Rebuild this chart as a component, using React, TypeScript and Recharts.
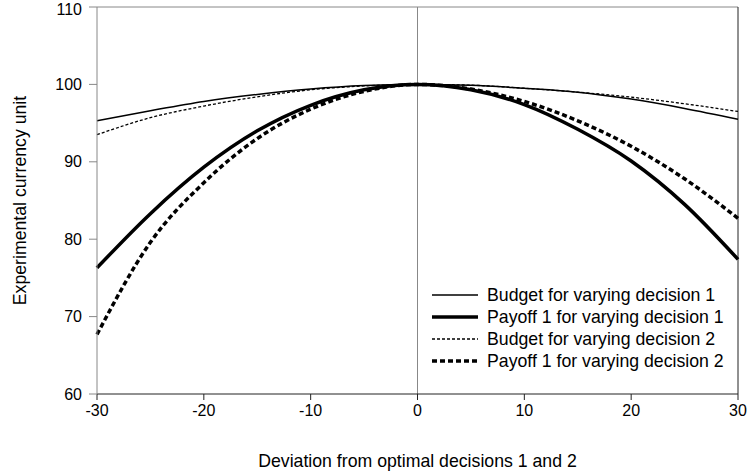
import React from 'react';
import { LineChart, Line, XAxis, YAxis, ReferenceLine, Legend } from 'recharts';

// deviation from the optimum (x axis)
const deviations = [-30, -25, -20, -15, -10, -5, 0, 5, 10, 15, 20, 25, 30];

const budgetDecision1 = [95.3, 96.6, 97.8, 98.7, 99.4, 99.85, 100, 99.9, 99.5, 99.0, 98.1, 96.9, 95.5];
const payoffDecision1 = [76.3, 83.3, 89.3, 94.0, 97.3, 99.3, 100, 99.3, 97.4, 94.2, 90.1, 84.5, 77.4];
const budgetDecision2 = [93.5, 95.7, 97.2, 98.4, 99.3, 99.8, 100, 99.9, 99.5, 99.0, 98.35, 97.5, 96.5];
const payoffDecision2 = [67.7, 79.6, 87.3, 93.0, 96.8, 99.1, 100, 99.4, 97.8, 95.3, 92.0, 87.8, 82.7];

const xTicks = [-30, -20, -10, 0, 10, 20, 30];
const yTicks = [60, 70, 80, 90, 100, 110];

const data = deviations.map((d, i) => ({
  d,
  b1: budgetDecision1[i],
  p1: payoffDecision1[i],
  b2: budgetDecision2[i],
  p2: payoffDecision2[i],
}));

const series = [
  { key: 'b1', name: 'Budget for varying decision 1', width: 1.5, dash: undefined },
  { key: 'p1', name: 'Payoff 1 for varying decision 1', width: 3.5, dash: undefined },
  { key: 'b2', name: 'Budget for varying decision 2', width: 1.3, dash: '3 2' },
  { key: 'p2', name: 'Payoff 1 for varying decision 2', width: 3.5, dash: '5 3' },
];

const font = '"Liberation Sans", Arial, sans-serif';

const renderLegend = () => (
  <div style={{ fontFamily: font, fontSize: 17.7, color: '#000' }}>
    {series.map((s) => (
      <div key={s.key} style={{ display: 'flex', alignItems: 'center', height: 22 }}>
        <svg width={46} height={10} style={{ marginRight: 9 }}>
          <line x1={0} y1={5} x2={46} y2={5} stroke="#000" strokeWidth={s.width} strokeDasharray={s.dash} />
        </svg>
        <span style={{ whiteSpace: 'nowrap' }}>{s.name}</span>
      </div>
    ))}
  </div>
);

const renderYLabel = (props: any) => {
  const vb = props.viewBox || { y: 7, height: 387 };
  const cy = vb.y + vb.height / 2;
  return (
    <text x={20} y={cy} transform={`rotate(-90 20 ${cy})`} textAnchor="middle" dominantBaseline="central"
      fontFamily={font} fontSize={17.7} fill="#000">
      Experimental currency unit
    </text>
  );
};

export default function App() {
  return (
    <div style={{ position: 'absolute', left: 0, top: 0, background: '#fff' }}>
      <LineChart width={749} height={474} data={data} margin={{ top: 7, right: 11, bottom: 0, left: 0 }}>
        <XAxis
          dataKey="d"
          type="number"
          domain={[-30, 30]}
          ticks={xTicks}
          height={80}
          stroke="#222"
          tickSize={6}
          tickMargin={5}
          tick={{ fill: '#000', fontSize: 16, fontFamily: font }}
          label={{ value: 'Deviation from optimal decisions 1 and 2', position: 'insideBottom', offset: 7, fill: '#000', fontSize: 17.7, fontFamily: font }}
        />
        <YAxis
          type="number"
          domain={[60, 110]}
          ticks={yTicks}
          width={97}
          stroke="#888"
          tickSize={8}
          tickMargin={7}
          tick={{ fill: '#000', fontSize: 16, fontFamily: font }}
          label={renderYLabel}
        />
        <ReferenceLine y={110} stroke="#888" strokeWidth={1} />
        <ReferenceLine x={30} stroke="#222" strokeWidth={1} />
        <ReferenceLine x={0} stroke="#888" strokeWidth={1} />
        {series.map((s) => (
          <Line
            key={s.key}
            type="monotone"
            dataKey={s.key}
            name={s.name}
            stroke="#000"
            strokeWidth={s.width}
            strokeDasharray={s.dash}
            dot={false}
            activeDot={false}
            isAnimationActive={false}
          />
        ))}
        <Legend
          layout="vertical"
          align="center"
          verticalAlign="middle"
          content={renderLegend}
          wrapperStyle={{ left: 432, top: 284, width: 310 }}
        />
      </LineChart>
    </div>
  );
}
